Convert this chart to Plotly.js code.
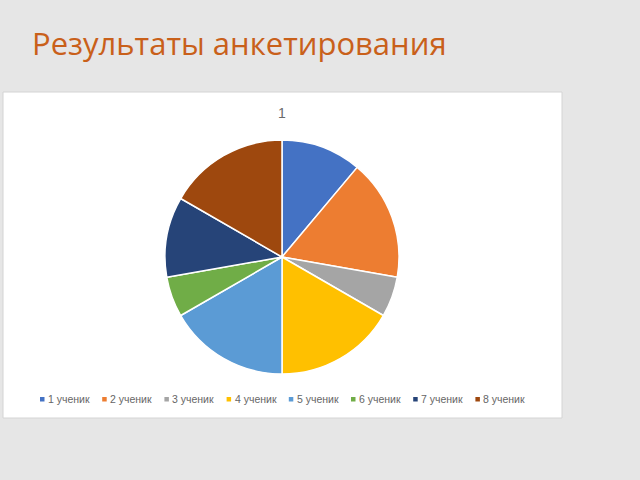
<!DOCTYPE html>
<html>
<head>
<meta charset="utf-8">
<script src="https://cdn.plot.ly/plotly-3.0.1.min.js"></script>
<style>html,body{margin:0;padding:0;background:#e6e6e6;}#chart{width:640px;height:480px;}</style>
</head>
<body>
<div id="chart"></div>
<script>
const slideTitle = 'Результаты анкетирования';
const chartTitle = '1';
const labels = ['1 ученик', '2 ученик', '3 ученик', '4 ученик', '5 ученик', '6 ученик', '7 ученик', '8 ученик'];
const values = [2, 3, 1, 3, 3, 1, 2, 3];
const colors = ['#4472C4', '#ED7D31', '#A5A5A5', '#FFC000', '#5B9BD5', '#70AD47', '#264478', '#9E480E'];

const W = 640, H = 480;
const px = x => x / W;
const py = y => 1 - y / H;

const shapes = [
  {type: 'rect', xref: 'paper', yref: 'paper', x0: px(3), x1: px(562), y0: py(418), y1: py(92),
   fillcolor: '#ffffff', line: {color: '#d4d4d4', width: 1}, layer: 'below'}
];
const annotations = [
  {xref: 'paper', yref: 'paper', x: px(282), y: py(113), text: chartTitle, showarrow: false,
   xanchor: 'center', yanchor: 'middle', font: {family: 'Liberation Sans, Arial', size: 14, color: '#6a6a6a'}}
];
const legStart = 42, legStep = 62.2, legY = 399;
labels.forEach((lab, i) => {
  const x = legStart + i * legStep;
  shapes.push({type: 'rect', xref: 'paper', yref: 'paper', x0: px(x - 2), x1: px(x + 2.5), y0: py(legY + 2.5), y1: py(legY - 2),
    fillcolor: colors[i], line: {width: 0}});
  annotations.push({xref: 'paper', yref: 'paper', x: px(x + 4), y: py(legY), text: lab, showarrow: false,
    xanchor: 'left', yanchor: 'middle', font: {family: 'Liberation Sans, Arial', size: 10.5, color: '#666666'}});
});

const data = [{
  type: 'pie',
  labels: labels,
  values: values,
  marker: {colors: colors, line: {color: '#ffffff', width: 1.5}},
  sort: false,
  direction: 'clockwise',
  rotation: 0,
  textinfo: 'none',
  hoverinfo: 'none',
  showlegend: false,
  domain: {x: [px(165), px(399)], y: [py(374), py(140)]}
}];

const layout = {
  width: W, height: H,
  margin: {l: 0, r: 0, t: 0, b: 0},
  paper_bgcolor: '#e6e6e6',
  plot_bgcolor: '#e6e6e6',
  title: {text: slideTitle, x: px(32), xanchor: 'left', y: py(44), yanchor: 'middle', xref: 'paper', yref: 'paper',
    font: {family: 'Open Sans, Noto Sans, sans-serif', size: 31, color: '#C9601A'}},
  showlegend: false,
  shapes: shapes,
  annotations: annotations
};

Plotly.newPlot('chart', data, layout, {staticPlot: true, displayModeBar: false});
</script>
</body>
</html>
